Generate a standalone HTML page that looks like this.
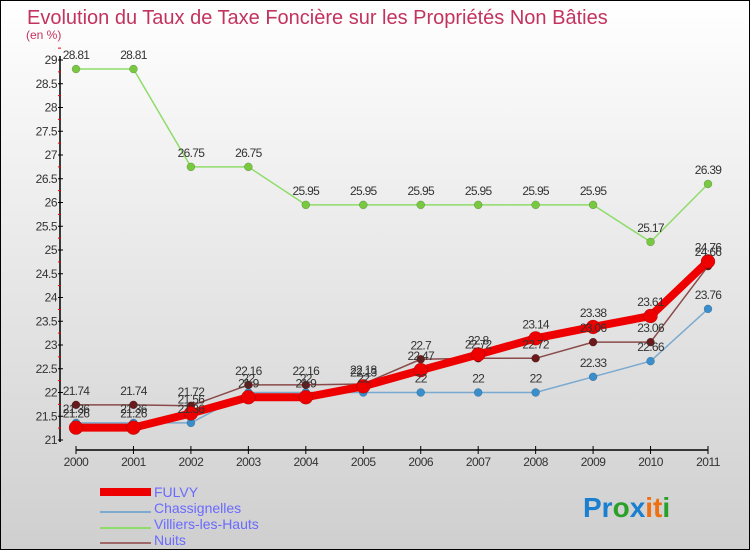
<!DOCTYPE html>
<html><head><meta charset="utf-8"><style>
body{margin:0;}
svg{display:block;font-family:"Liberation Sans",sans-serif;}
</style></head><body>
<svg id="c" width="750" height="550" viewBox="0 0 750 550">
<defs><linearGradient id="bg" x1="0" y1="0" x2="0" y2="1"><stop offset="0" stop-color="#ffffff"/><stop offset="1" stop-color="#cfcfcf"/></linearGradient></defs>
<rect x="0.5" y="0.5" width="749" height="549" fill="url(#bg)" stroke="#000"/>
<text x="27" y="24" font-size="20" fill="#c3335f">Evolution du Taux de Taxe Foncière sur les Propriétés Non Bâties</text>
<text x="26" y="39" font-size="12" fill="#c3335f">(en %)</text>
<g id="axes"></g><g id="series"></g><g id="labels"></g>
<g>
<rect x="100" y="488" width="51" height="8" fill="#e00"/>
<text x="154" y="497" font-size="14" fill="#6a6aff">FULVY</text>
<line x1="100" y1="512" x2="151" y2="512" stroke="#7aaad0" stroke-width="2"/>
<text x="154" y="513" font-size="14" fill="#6a6aff">Chassignelles</text>
<line x1="100" y1="528" x2="151" y2="528" stroke="#8fdc6a" stroke-width="2"/>
<text x="154" y="529" font-size="14" fill="#6a6aff">Villiers-les-Hauts</text>
<line x1="100" y1="543" x2="151" y2="543" stroke="#a06868" stroke-width="2"/>
<text x="154" y="545" font-size="14" fill="#6a6aff">Nuits</text>
</g>
<g font-size="28" font-weight="bold">
<text x="583" y="517"><tspan fill="#1a7fd0">Pr</tspan><tspan fill="#2aa02a">o</tspan><tspan fill="#1a7fd0">x</tspan><tspan fill="#f07010">it</tspan><tspan fill="#2aa02a">i</tspan></text>
</g>
</svg>
<script>
const years=["2000","2001","2002","2003","2004","2005","2006","2007","2008","2009","2010","2011"];
const fulvy=[21.26,21.26,21.56,21.9,21.9,22.13,22.47,22.8,23.14,23.38,23.61,24.76];
const chass=[21.36,21.36,21.36,22,22,22,22,22,22,22.33,22.66,23.76];
const villiers=[28.81,28.81,26.75,26.75,25.95,25.95,25.95,25.95,25.95,25.95,25.17,26.39];
const nuits=[21.74,21.74,21.72,22.16,22.16,22.18,22.7,22.72,22.72,23.06,23.06,24.66];
const yTicks=[21,21.5,22,22.5,23,23.5,24,24.5,25,25.5,26,26.5,27,27.5,28,28.5,29];
const NS="http://www.w3.org/2000/svg";
function x(i){return 76+i*(708-76)/11;}
function y(v){return 440-(v-21)*47.5;}
function mk(p,t,a){const e=document.createElementNS(NS,t);for(const k in a)e.setAttribute(k,a[k]);p.appendChild(e);return e;}
const ax=document.getElementById('axes'),se=document.getElementById('series'),lb=document.getElementById('labels');
let e=mk(ax,'line',{x1:60,y1:56,x2:60,y2:442,stroke:'#000','stroke-width':1.5});

e=mk(ax,'line',{x1:76,y1:450,x2:708,y2:450,stroke:'#000','stroke-width':1.5});

yTicks.forEach(v=>{
 mk(ax,'line',{x1:58,y1:y(v),x2:63,y2:y(v),stroke:'#000'});
 mk(ax,'line',{x1:58,y1:y(v+0.25),x2:61,y2:y(v+0.25),stroke:'#e00'});
 const t=mk(ax,'text',{x:57,y:y(v)+4,'font-size':12,'text-anchor':'end',fill:'#333','letter-spacing':'-0.5'});t.textContent=v;
 
});
years.forEach((yr,i)=>{
 mk(ax,'line',{x1:x(i),y1:446,x2:x(i),y2:454,stroke:'#000'});
 const t=mk(ax,'text',{x:x(i),y:466,'font-size':12,'text-anchor':'middle',fill:'#333','letter-spacing':'-0.5'});t.textContent=yr;
 
});
function draw(data,name,color,dot,w,r){
 const g=mk(se,'g',{});
 
 mk(g,'polyline',{points:data.map((v,i)=>x(i)+','+y(v)).join(' '),fill:'none',stroke:color,'stroke-width':w,'stroke-linejoin':'round'});
 data.forEach((v,i)=>{
  const c=mk(g,'circle',{cx:x(i),cy:y(v),r:r,fill:dot,stroke:'rgba(0,0,0,0.3)','stroke-width':0.5});
  
  const t=mk(lb,'text',{x:x(i),y:y(v)-10,'font-size':12,'text-anchor':'middle',fill:'#333','letter-spacing':'-0.7'});t.textContent=v;
  
 });
}
draw(villiers,'villiers','#8fdc6a','#78c840',1.5,4);
draw(chass,'chassignelles','#7aaad0','#3a8ecc',1.5,4);
draw(nuits,'nuits','#8a4a4a','#6a1a1a',1.5,4);
draw(fulvy,'fulvy','#ee0000','#ee0000',8,7);
</script>
</body></html>
